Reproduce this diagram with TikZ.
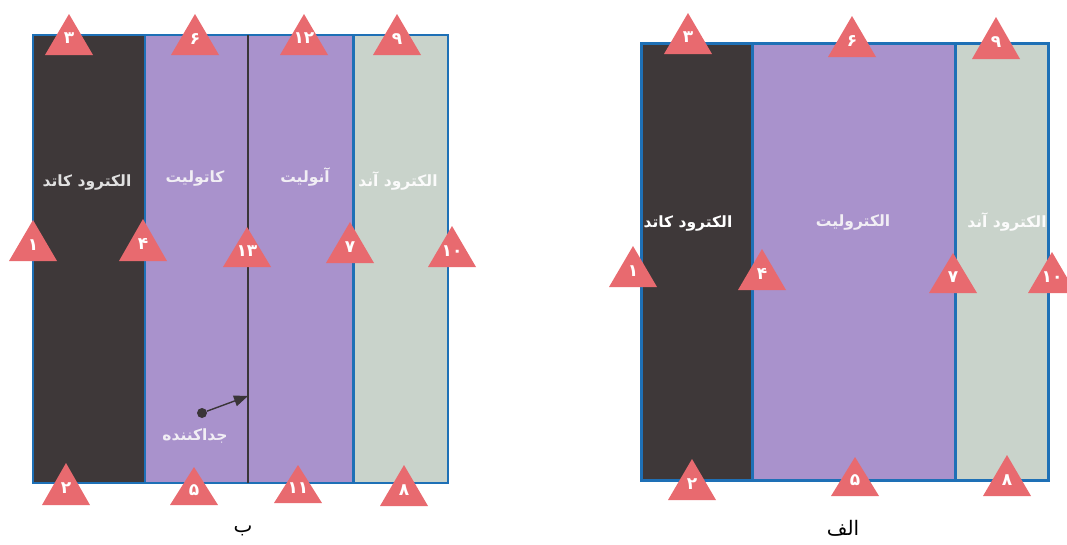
\documentclass[tikz,border=0pt]{standalone}
\usepackage{fontspec}
\usetikzlibrary{arrows.meta}
\TeXXeTstate=1
\newfontfamily\fa[Script=Arabic]{DejaVu Sans}
\definecolor{cathode}{HTML}{3E3839}
\definecolor{lyte}{HTML}{A992CC}
\definecolor{anode}{HTML}{C9D3CB}
\definecolor{edgeblue}{HTML}{1E70B6}
\definecolor{trired}{HTML}{E86A6F}
\definecolor{sepcol}{HTML}{3A3538}
\definecolor{lighttxt}{HTML}{F1EEF4}
\tikzset{
  lbl/.style={font=\fa\bfseries\fontsize{15.5}{18}\selectfont, text=lighttxt, inner sep=0pt},
  numtxt/.style={font=\fa\bfseries\fontsize{17}{19}\selectfont, text=white, inner sep=0pt},
  captxt/.style={font=\fa\fontsize{20}{23}\selectfont, text=black, inner sep=0pt},
}
\newcommand{\tri}[5]{%
  \fill[trired] (#2-24,#4) -- (#2,#3) -- (#2+24,#4) -- cycle;
  \node[numtxt] (#1) at (#2,{#3+0.60*(#4-#3)}) {#5};}
\begin{document}
\begin{tikzpicture}[x=1pt,y=-1pt]
\useasboundingbox (0,0) rectangle (1067,544);
% ---------- left diagram (b) ----------
\fill[cathode] (33,35) rectangle (145,483);
\fill[lyte] (145,35) rectangle (353,483);
\fill[anode] (353,35) rectangle (448,483);
\draw[edgeblue, line width=2.5] (33,35) rectangle (448,483);
\draw[edgeblue, line width=2] (145,35) -- (145,483);
\draw[edgeblue, line width=3] (353,35) -- (353,483);
\draw[sepcol, line width=2] (248,35) -- (248,483);
\node[lbl, text=white!88!black] (bk) at (87,182) {\beginR الکترود کاتد\endR};
\node[lbl] (bc) at (195,178) {\beginR کاتولیت\endR};
\node[lbl] (ba) at (305,177) {\beginR آنولیت\endR};
\node[lbl, text=white!92!anode] (bn) at (398,181) {\beginR الکترود آند\endR};
\node[lbl] (bs) at (195,436) {\beginR جداکننده\endR};
\node[circle, fill=sepcol, inner sep=0pt, minimum size=10pt] (dot) at (202,413) {};
\coordinate (septip) at (248,396);
\draw[sepcol, line width=1.4, -{Triangle[length=14pt,width=11pt]}] (dot) -- (septip);
\tri{b3}{69}{14}{55}{۳}
\tri{b6}{195}{14}{55}{۶}
\tri{b12}{304}{14}{55}{۱۲}
\tri{b9}{397}{14}{55}{۹}
\tri{b1}{33}{220}{261}{۱}
\tri{b4}{143}{219}{261}{۴}
\tri{b13}{247}{227}{267}{۱۳}
\tri{b7}{350}{222}{263}{۷}
\tri{b10}{452}{226}{267}{۱۰}
\tri{b2}{66}{463}{505}{۲}
\tri{b5}{194}{467}{505}{۵}
\tri{b11}{298}{465}{503}{۱۱}
\tri{b8}{404}{465}{506}{۸}
\node[captxt] (capb) at (243,531) {ب};
% ---------- right diagram (alef) ----------
\fill[cathode] (641,43) rectangle (752,480);
\fill[lyte] (752,43) rectangle (955,480);
\fill[anode] (955,43) rectangle (1048,480);
\draw[edgeblue, line width=3] (641,43) rectangle (1048,480);
\draw[edgeblue, line width=3] (752,43) -- (752,480);
\draw[edgeblue, line width=3] (955,43) -- (955,480);
\node[lbl, text=white] (ak) at (688,223) {\beginR الکترود کاتد\endR};
\node[lbl] (al) at (853,222) {\beginR الکترولیت\endR};
\node[lbl, text=white!92!anode] (an) at (1007,222) {\beginR الکترود آند\endR};
\tri{a3}{688}{13}{54}{۳}
\tri{a6}{852}{16}{57}{۶}
\tri{a9}{996}{17}{59}{۹}
\tri{a1}{633}{246}{287}{۱}
\tri{a4}{762}{249}{290}{۴}
\tri{a7}{953}{253}{293}{۷}
\tri{a10}{1052}{252}{293}{۱۰}
\tri{a2}{692}{459}{500}{۲}
\tri{a5}{855}{457}{496}{۵}
\tri{a8}{1007}{455}{496}{۸}
\node[captxt] (capa) at (843,528) {الف};
\end{tikzpicture}
\end{document}
